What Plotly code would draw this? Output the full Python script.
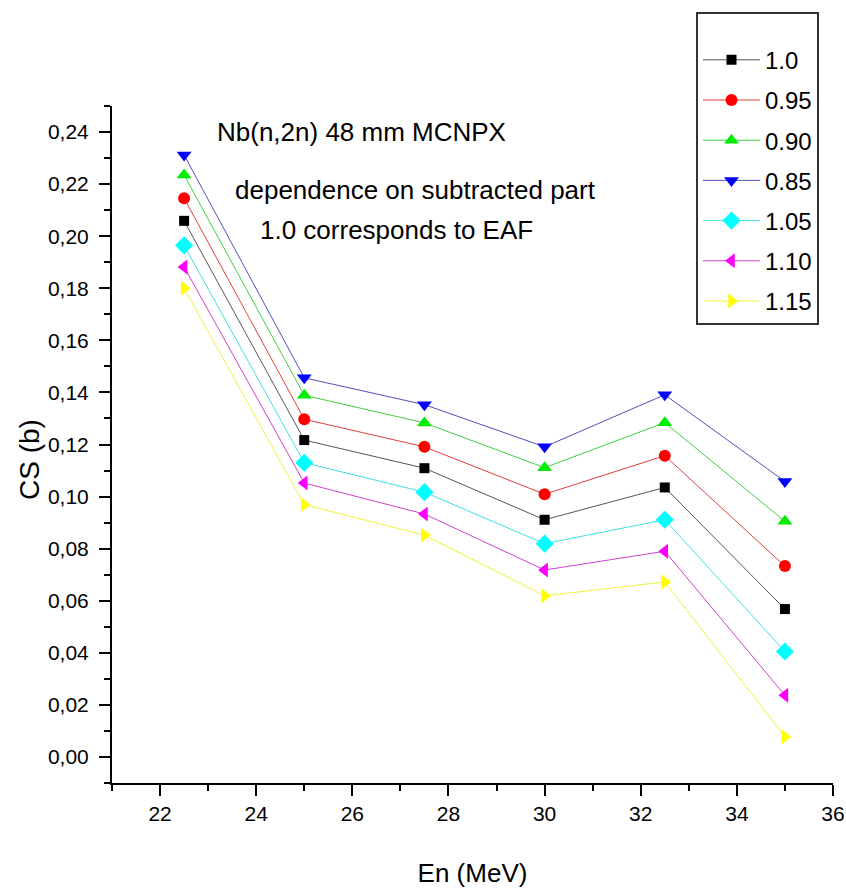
import plotly.graph_objects as go

# Neutron energy grid (MeV)
energy = [22.5, 25.0, 27.5, 30.0, 32.5, 35.0]

# Cross sections (b) for each scaling of the subtracted part
cs_100 = [0.2059, 0.1217, 0.1109, 0.0911, 0.1035, 0.0568]
cs_095 = [0.2146, 0.1297, 0.1191, 0.1009, 0.1157, 0.0733]
cs_090 = [0.2235, 0.1389, 0.1283, 0.1111, 0.1284, 0.0905]
cs_085 = [0.2312, 0.1456, 0.1353, 0.1191, 0.1391, 0.1058]
cs_105 = [0.1965, 0.1130, 0.1017, 0.0819, 0.0911, 0.0405]
cs_110 = [0.1882, 0.1052, 0.0933, 0.0718, 0.0790, 0.0237]
cs_115 = [0.1800, 0.0969, 0.0852, 0.0619, 0.0672, 0.0078]

series_names = ["1.0", "0.95", "0.90", "0.85", "1.05", "1.10", "1.15"]
series_values = [cs_100, cs_095, cs_090, cs_085, cs_105, cs_110, cs_115]
colors = ["#000000", "#ff0000", "#00ee00", "#0000ff", "#00ffff", "#ff00ff", "#ffff00"]
line_colors = ["#555555", "#e04040", "#40d040", "#5050c0", "#40e0e0", "#d040d0", "#f0f040"]
symbols = ["square", "circle", "triangle-up", "triangle-down", "diamond",
           "triangle-left", "triangle-right"]
sizes = [10, 12, 13, 13, 14, 13, 13]

x_ticks = [22, 24, 26, 28, 30, 32, 34, 36]
y_ticks = [0.00, 0.02, 0.04, 0.06, 0.08, 0.10, 0.12, 0.14, 0.16, 0.18, 0.20, 0.22, 0.24]

FONT = "Liberation Sans, Arial, sans-serif"

fig = go.Figure()
for i, (name, vals) in enumerate(zip(series_names, series_values)):
    fig.add_trace(go.Scatter(
        x=energy, y=vals, name=name, mode="lines+markers",
        legendgroup=name,
        line=dict(color=line_colors[i], width=1),
        marker=dict(symbol=symbols[i], size=sizes[i], color=colors[i],
                    line=dict(width=0)),
    ))

# Geometry of the plotting area in pixels
W, H = 846, 889
L, R, T, B = 112, 833, 104, 783
pw, ph = R - L, B - T


def px(xp):
    return (xp - L) / pw


def py(yp):
    return (B - yp) / ph


fig.update_layout(
    template="none",
    width=W, height=H,
    margin=dict(l=L, r=W - R, t=T, b=H - B, pad=0),
    paper_bgcolor="white", plot_bgcolor="white",
    separators=",.",
    font=dict(family=FONT, color="black"),
    showlegend=True,
    legend=dict(
        x=px(696), y=py(10), xanchor="left", yanchor="top",
        bgcolor="white", bordercolor="#333333", borderwidth=2,
        font=dict(size=24, family=FONT, color="black"),
        itemwidth=57, tracegroupgap=6,
        title=dict(text=" ", font=dict(size=18, family=FONT)),
    ),
    xaxis=dict(
        range=[21, 36], tickvals=x_ticks, ticks="outside", ticklen=11, tickwidth=2,
        tickcolor="black", showline=True, linecolor="black", linewidth=2,
        showgrid=False, zeroline=False, automargin=False,
        tickfont=dict(size=21, family=FONT),
        minor=dict(dtick=1, tick0=21, ticks="outside", ticklen=6, tickwidth=2,
                   tickcolor="black", showgrid=False),
        title=dict(text="En (MeV)", font=dict(size=26, family=FONT), standoff=40),
    ),
    yaxis=dict(
        range=[-0.01, 0.25], tickvals=y_ticks, tickformat=".2f",
        ticks="outside", ticklen=11, tickwidth=2, tickcolor="black",
        showline=True, linecolor="black", linewidth=2,
        showgrid=False, zeroline=False, automargin=False,
        tickfont=dict(size=21, family=FONT), ticklabelstandoff=6,
        minor=dict(dtick=0.01, tick0=0, ticks="outside", ticklen=6, tickwidth=2,
                   tickcolor="black", showgrid=False),
    ),
    annotations=[
        dict(text="CS (b)", textangle=-90, x=px(30), y=py(459),
             xref="paper", yref="paper", xanchor="center", yanchor="middle",
             showarrow=False, font=dict(size=28, family=FONT)),
        dict(text="Nb(n,2n) 48 mm MCNPX", x=px(215), y=py(130),
             xref="paper", yref="paper", xanchor="left", yanchor="middle",
             showarrow=False, font=dict(size=26, family=FONT)),
        dict(text="dependence on subtracted part", x=px(233), y=py(188),
             xref="paper", yref="paper", xanchor="left", yanchor="middle",
             showarrow=False, font=dict(size=26, family=FONT)),
        dict(text="1.0 corresponds to EAF", x=px(258), y=py(228),
             xref="paper", yref="paper", xanchor="left", yanchor="middle",
             showarrow=False, font=dict(size=26, family=FONT)),
    ],
)

fig.write_html("out.html")
